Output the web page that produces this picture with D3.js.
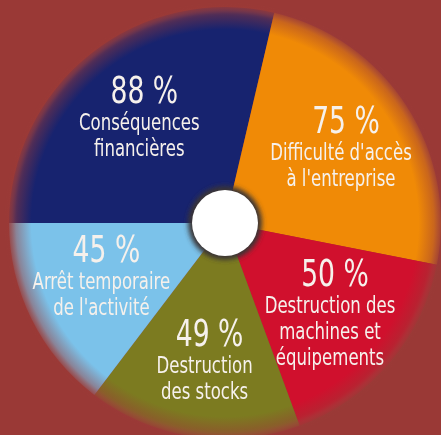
<!DOCTYPE html>
<html>
<head>
<meta charset="utf-8">
<script src="https://cdn.jsdelivr.net/npm/d3@7"></script>
<style>
  html, body { margin: 0; padding: 0; background: #9a3936; }
  svg { display: block; }
  .lbl { font-family: "DejaVu Sans Condensed", "DejaVu Sans", sans-serif; font-stretch: condensed; fill: #f6f1ec; }
</style>
</head>
<body>
<svg id="pie"></svg>
<script>
const values = [88, 75, 50, 49, 45];
const pctLabels = ['88 %', '75 %', '50 %', '49 %', '45 %'];
const labelLines = [
  ['Conséquences', 'financières'],
  ["Difficulté d'accès", "à l'entreprise"],
  ['Destruction des', 'machines et', 'équipements'],
  ['Destruction', 'des stocks'],
  ['Arrêt temporaire', "de l'activité"]
];
const COLORS = ['#17236f', '#f08a06', '#d0102d', '#7c7b20', '#7bc2ea'];
const BG = '#9a3936';
// small vertical tweaks for label blocks (layout only)
const labelNudge = [2, -2, 0, 0, -9];

const width = 441;
const height = 435;
const cx = 225;
const cy = 223;
const radius = 216;

const svg = d3.select('#pie')
  .attr('width', width)
  .attr('height', height);

svg.append('rect')
  .attr('width', width)
  .attr('height', height)
  .attr('fill', BG);

const defs = svg.append('defs');

// soft fade of the pie edge into the background
const fade = defs.append('radialGradient')
  .attr('id', 'edge-fade')
  .attr('cx', 0.5).attr('cy', 0.5).attr('r', 0.5);
fade.append('stop').attr('offset', 0.88).attr('stop-color', BG).attr('stop-opacity', 0);
fade.append('stop').attr('offset', 0.95).attr('stop-color', BG).attr('stop-opacity', 0.45);
fade.append('stop').attr('offset', 0.985).attr('stop-color', BG).attr('stop-opacity', 0.9);
fade.append('stop').attr('offset', 1).attr('stop-color', BG).attr('stop-opacity', 1);

defs.append('filter')
  .attr('id', 'blur')
  .attr('x', -0.5).attr('y', -0.5).attr('width', 2).attr('height', 2)
  .append('feGaussianBlur')
  .attr('stdDeviation', 2.5);

defs.append('filter')
  .attr('id', 'blur-soft')
  .append('feGaussianBlur')
  .attr('stdDeviation', 0.35);

const g = svg.append('g')
  .attr('transform', `translate(${cx}, ${cy})`);

const pie = d3.pie()
  .sort(null)
  .startAngle(-Math.PI / 2)
  .endAngle(Math.PI * 1.5);

const arcs = pie(values);

const arc = d3.arc()
  .innerRadius(0)
  .outerRadius(radius);

// Slices
g.selectAll('.slice')
  .data(arcs)
  .enter().append('path')
    .attr('class', 'slice')
    .attr('fill', (d, i) => COLORS[i])
    .attr('d', arc);

// Edge ring (faint highlight) + fade overlay
g.append('circle')
  .attr('r', radius - 2)
  .attr('fill', 'none')
  .attr('stroke', '#c98a80')
  .attr('stroke-opacity', 0.3)
  .attr('stroke-width', 3)
  .attr('filter', 'url(#blur)');

g.append('circle')
  .attr('r', radius + 4)
  .attr('fill', 'url(#edge-fade)');

// Center hole
g.append('circle')
  .attr('r', 37)
  .attr('fill', '#3a3434')
  .attr('filter', 'url(#blur)');
g.append('circle')
  .attr('r', 33)
  .attr('fill', '#ffffff');

// Labels
const labelArc = d3.arc()
  .innerRadius(138)
  .outerRadius(138);

const pctSize = 37;
const txtSize = 23;
const xScale = 0.8;
const pctCap = 26;
const pctGap = 27;
const lineGap = 26;

arcs.forEach((d, i) => {
  const [lx, ly] = labelArc.centroid(d);
  const lines = labelLines[i];
  const blockH = pctCap + pctGap + lineGap * (lines.length - 1);
  const base = ly + labelNudge[i] - blockH / 2 + pctCap;

  const t = g.append('g')
    .attr('class', 'lbl')
    .attr('filter', 'url(#blur-soft)');

  t.append('text')
    .attr('transform', `translate(${lx + 5}, ${base}) scale(${xScale}, 1)`)
    .attr('text-anchor', 'middle')
    .attr('font-size', pctSize)
    .text(pctLabels[i]);

  lines.forEach((line, j) => {
    t.append('text')
      .attr('transform', `translate(${lx}, ${base + pctGap + j * lineGap}) scale(${xScale}, 1)`)
      .attr('text-anchor', 'middle')
      .attr('font-size', txtSize)
      .text(line);
  });
});
</script>
</body>
</html>
